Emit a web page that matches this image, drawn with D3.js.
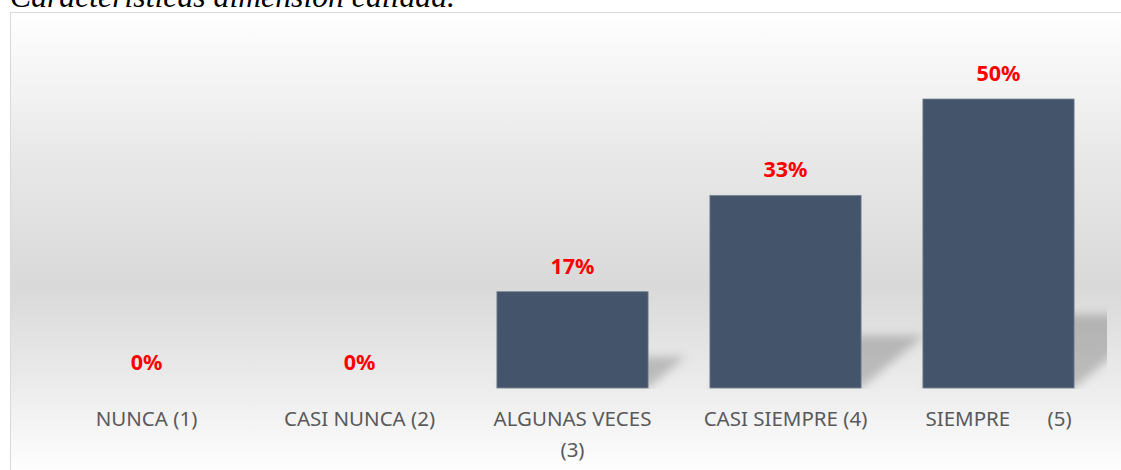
<!DOCTYPE html>
<html>
<head>
  <meta charset="utf-8">
  <script src="https://cdn.jsdelivr.net/npm/d3@7"></script>
  <style>
    html, body {
        margin:0px;
        padding:0px;
        background:#fff;
    }
    .cat text {
        font-family: "Noto Sans", sans-serif;
        font-size: 20.5px;
        fill: #595959;
        white-space: pre;
    }
    .pct {
        font-family: "Noto Sans", sans-serif;
        font-weight: bold;
        font-size: 21.5px;
        fill: #ff0000;
    }
    .caption {
        font-family: "Liberation Serif", serif;
        font-style: italic;
        fill: #000;
    }
  </style>
  <title></title>
</head>
<body>
<div id="chart"></div>
<script>
    // data (shares of 6 answers, labels rounded)
    var categories = ["NUNCA (1)", "CASI NUNCA (2)", "ALGUNAS VECES (3)", "CASI SIEMPRE (4)", "SIEMPRE       (5)"];
    var values = [0, 0, 16.67, 33.33, 50];
    var valueLabels = ["0%", "0%", "17%", "33%", "50%"];
    var caption = "Características dimensión calidad.";

    var width = 1121, height = 470;
    var baseY = 388;

    var svg = d3.select("#chart").append("svg")
        .attr("width", width)
        .attr("height", height);

    var defs = svg.append("defs");

    // background gradient of the chart area
    var grad = defs.append("linearGradient")
        .attr("id", "bg")
        .attr("gradientUnits", "userSpaceOnUse")
        .attr("x1", 0).attr("y1", 12)
        .attr("x2", 0).attr("y2", 470);
    [[0, "#ffffff"], [0.3, "#e9e9e9"], [0.6, "#d9d9d9"], [0.84, "#eeeeee"], [1, "#fefefe"]]
        .forEach(function(s) {
            grad.append("stop").attr("offset", s[0]).attr("stop-color", s[1]);
        });

    defs.append("filter").attr("id", "blur")
        .attr("x", "-50%").attr("y", "-50%").attr("width", "200%").attr("height", "200%")
        .append("feGaussianBlur").attr("stdDeviation", 5);

    defs.append("clipPath").attr("id", "plotClip")
        .append("rect")
        .attr("x", 11).attr("y", 13)
        .attr("width", 1096).attr("height", baseY - 12);

    svg.append("rect")
        .attr("x", 10.5).attr("y", 12.5)
        .attr("width", 1200).attr("height", 500)
        .style("fill", "url(#bg)")
        .style("stroke", "#d9d9d9")
        .style("stroke-width", 1);

    // caption, cut at the top like the original
    var cap = svg.append("text")
        .attr("class", "caption")
        .attr("x", 10).attr("y", 7)
        .style("font-size", "30px")
        .text(caption);
    var capLen = cap.node().getComputedTextLength();
    cap.style("font-size", (30 * 445 / capLen) + "px");

    // scales
    var x = d3.scaleBand()
        .domain(categories)
        .range([40, 1105])
        .paddingInner(0.29)
        .paddingOuter(0.145);

    var y = d3.scaleLinear()
        .domain([0, 50])
        .range([baseY, 99]);

    // shadows
    var shadowG = svg.append("g")
        .attr("clip-path", "url(#plotClip)")
        .append("g")
        .attr("filter", "url(#blur)");

    shadowG.selectAll("path")
        .data(categories.filter(function(c, i) { return values[i] > 0; }))
        .enter().append("path")
        .attr("d", function(c) {
            var v = values[categories.indexOf(c)];
            var h = (baseY - y(v)) * 0.22 + 10;
            var dx = h * 1.2;
            var x0 = x(c), x1 = x(c) + x.bandwidth();
            return "M" + x0 + "," + baseY + "L" + x1 + "," + baseY +
                   "L" + (x1 + dx) + "," + (baseY - h) + "L" + (x0 + dx) + "," + (baseY - h) + "Z";
        })
        .style("fill", "#000")
        .style("opacity", 0.2);

    // bars
    svg.append("g").selectAll("rect")
        .data(categories)
        .enter().append("rect")
        .attr("x", function(c) { return x(c); })
        .attr("y", function(c, i) { return y(values[i]); })
        .attr("width", x.bandwidth())
        .attr("height", function(c, i) { return baseY - y(values[i]); })
        .style("fill", "#44546a")
        .style("stroke", function(c, i) { return values[i] > 0 ? "#7d8898" : "none"; })
        .style("stroke-width", 0.8);

    // value labels
    svg.append("g").selectAll("text")
        .data(categories)
        .enter().append("text")
        .attr("class", "pct")
        .attr("x", function(c) { return x(c) + x.bandwidth() / 2; })
        .attr("y", function(c, i) { return y(values[i]) - 18; })
        .attr("text-anchor", "middle")
        .text(function(c, i) { return valueLabels[i]; });

    // category axis
    var axis = svg.append("g")
        .attr("class", "cat")
        .attr("transform", "translate(0," + baseY + ")")
        .call(d3.axisBottom(x).tickSize(0));
    axis.select(".domain").remove();
    axis.selectAll("text")
        .attr("y", 38)
        .attr("dy", 0)
        .attr("fill", null)
        .attr("font-family", null)
        .attr("font-size", null)
        .call(wrap, 180);

    function wrap(sel, maxWidth) {
        sel.each(function() {
            var t = d3.select(this);
            var s = t.text();
            if (this.getComputedTextLength() <= maxWidth) return;
            var cut = s.lastIndexOf(" ");
            t.text(null);
            t.append("tspan").attr("x", 0).attr("dy", 0).text(s.slice(0, cut));
            t.append("tspan").attr("x", 0).attr("dy", 31).text(s.slice(cut + 1));
        });
    }
</script>
</body>
</html>
